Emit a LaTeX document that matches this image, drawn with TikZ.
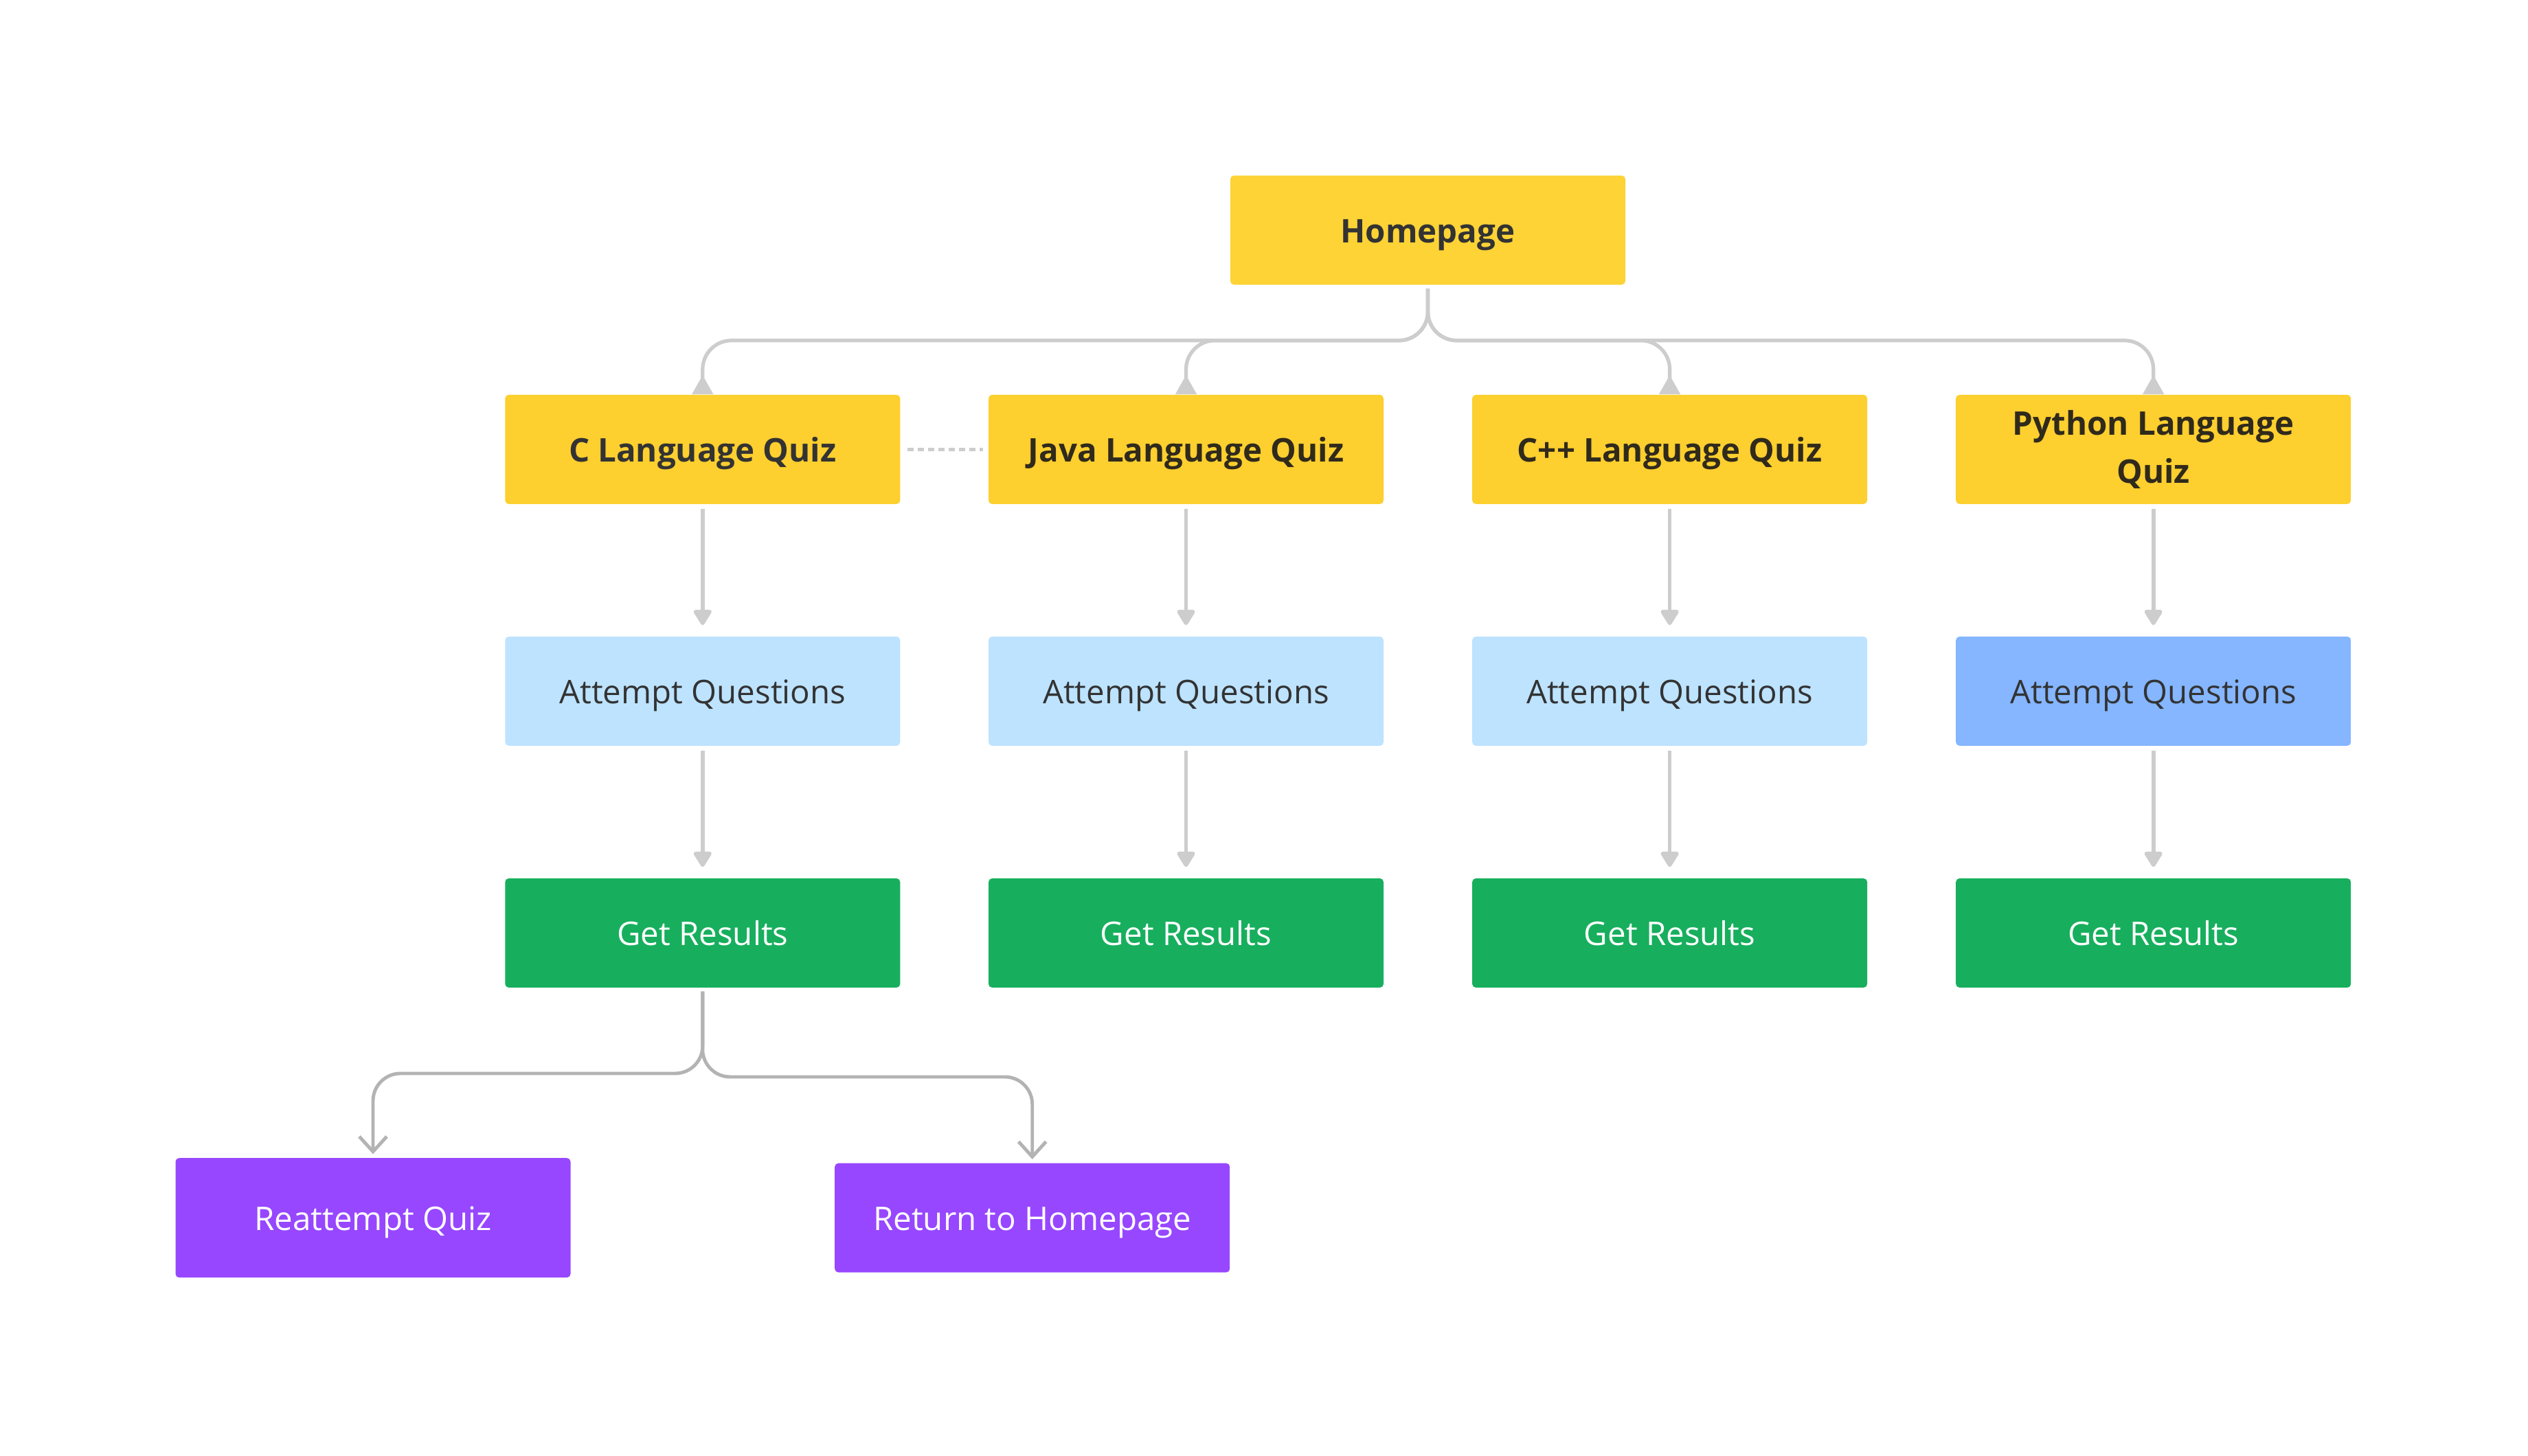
\documentclass[tikz,border=0pt]{standalone}
\usepackage{fontspec}
\setmainfont{Open Sans}
\usepackage{xcolor}
\usetikzlibrary{arrows.meta,positioning,calc}

\definecolor{homeyellow}{HTML}{FDD335}
\definecolor{quizyellow}{HTML}{FDCF2F}
\definecolor{attemptblue}{HTML}{BDE3FF}
\definecolor{pyblue}{HTML}{85B6FF}
\definecolor{resultgreen}{HTML}{17AF5D}
\definecolor{actionpurple}{HTML}{9747FF}
\definecolor{linegray}{HTML}{CDCDCD}
\definecolor{busgray}{HTML}{B3B3B3}
\definecolor{textdark}{HTML}{302A1C}
\definecolor{textgray}{HTML}{333333}

\begin{document}
\begin{tikzpicture}[
        box/.style={rectangle, rounded corners=1.5pt, minimum width=5.75cm, minimum height=1.59cm,
            inner sep=0pt, align=center, text height=0.40cm, text depth=0.04cm,
            font=\fontsize{13.5}{20}\selectfont},
        quiz/.style={box, fill=quizyellow, text=textdark, font=\fontsize{13.5}{20}\selectfont\bfseries},
        attempt/.style={box, fill=attemptblue, text=textgray},
        result/.style={box, fill=resultgreen, text=white},
        action/.style={box, fill=actionpurple, text=white},
        uplink/.style={linegray, line width=1.5pt, rounded corners=0.42cm,
            -{Triangle[reversed,width=0.3cm,length=0.28cm]}, shorten <=0.05cm},
        downlink/.style={linegray, line width=1.6pt,
            -{Triangle[width=0.29cm,length=0.25cm,round]}, shorten <=0.06cm, shorten >=0.16cm},
        splitlink/.style={busgray, line width=1.4pt, rounded corners=0.4cm,
            -{Straight Barb[width=0.4cm,length=0.22cm]}, shorten <=0.05cm, shorten >=0.05cm},
        dashlink/.style={linegray, line width=1.5pt, dash pattern=on 0.09cm off 0.06cm,
            shorten <=0.1cm, shorten >=0.07cm},
    ]
        % Page
        \fill[white] (0,0) rectangle (36.8,21.2);
        \useasboundingbox (0,0) rectangle (36.8,21.2);

        % Homepage
        \node[quiz, fill=homeyellow, text=textgray] (home) at (20.785,17.849) {Homepage};

        % Quiz row
        \node[quiz, text=textgray] (c-quiz) at (10.228,14.656) {C Language Quiz};
        \node[quiz] (java-quiz) at (17.265,14.656) {Java Language Quiz};
        \node[quiz] (cpp-quiz) at (24.306,14.656) {C++ Language Quiz};
        \node[quiz, text height=, text depth=] (py-quiz) at (31.347,14.656) {Python Language\\Quiz};

        % Attempt row
        \node[attempt] (c-attempt) at (10.228,11.136) {Attempt Questions};
        \node[attempt] (java-attempt) at (17.265,11.136) {Attempt Questions};
        \node[attempt] (cpp-attempt) at (24.306,11.136) {Attempt Questions};
        \node[attempt, fill=pyblue] (py-attempt) at (31.347,11.136) {Attempt Questions};

        % Results row
        \node[result] (c-result) at (10.228,7.615) {Get Results};
        \node[result] (java-result) at (17.265,7.615) {Get Results};
        \node[result] (cpp-result) at (24.306,7.615) {Get Results};
        \node[result] (py-result) at (31.347,7.615) {Get Results};

        % After results
        \node[action, minimum height=1.74cm] (reattempt) at (5.430,3.468) {Reattempt Quiz};
        \node[action] (return) at (15.027,3.468) {Return to Homepage};

        % Homepage to quizzes
        \foreach \lang in {c,java,cpp,py} {
            \draw[uplink] (home.south) -- ++(0,-0.805) -| (\lang-quiz.north);
        }
        \draw[dashlink] (c-quiz.east) -- (java-quiz.west);

        % Quiz steps
        \foreach \lang in {c,java,cpp,py} {
            \draw[downlink] (\lang-quiz.south) -- (\lang-attempt.north);
            \draw[downlink] (\lang-attempt.south) -- (\lang-result.north);
        }

        % Results split
        \draw[splitlink] (c-result.south) -- ++(0,-1.243) -| (reattempt.north);
        \draw[splitlink] (c-result.south) -- ++(0,-1.293) -| (return.north);

    \end{tikzpicture}
\end{document}
